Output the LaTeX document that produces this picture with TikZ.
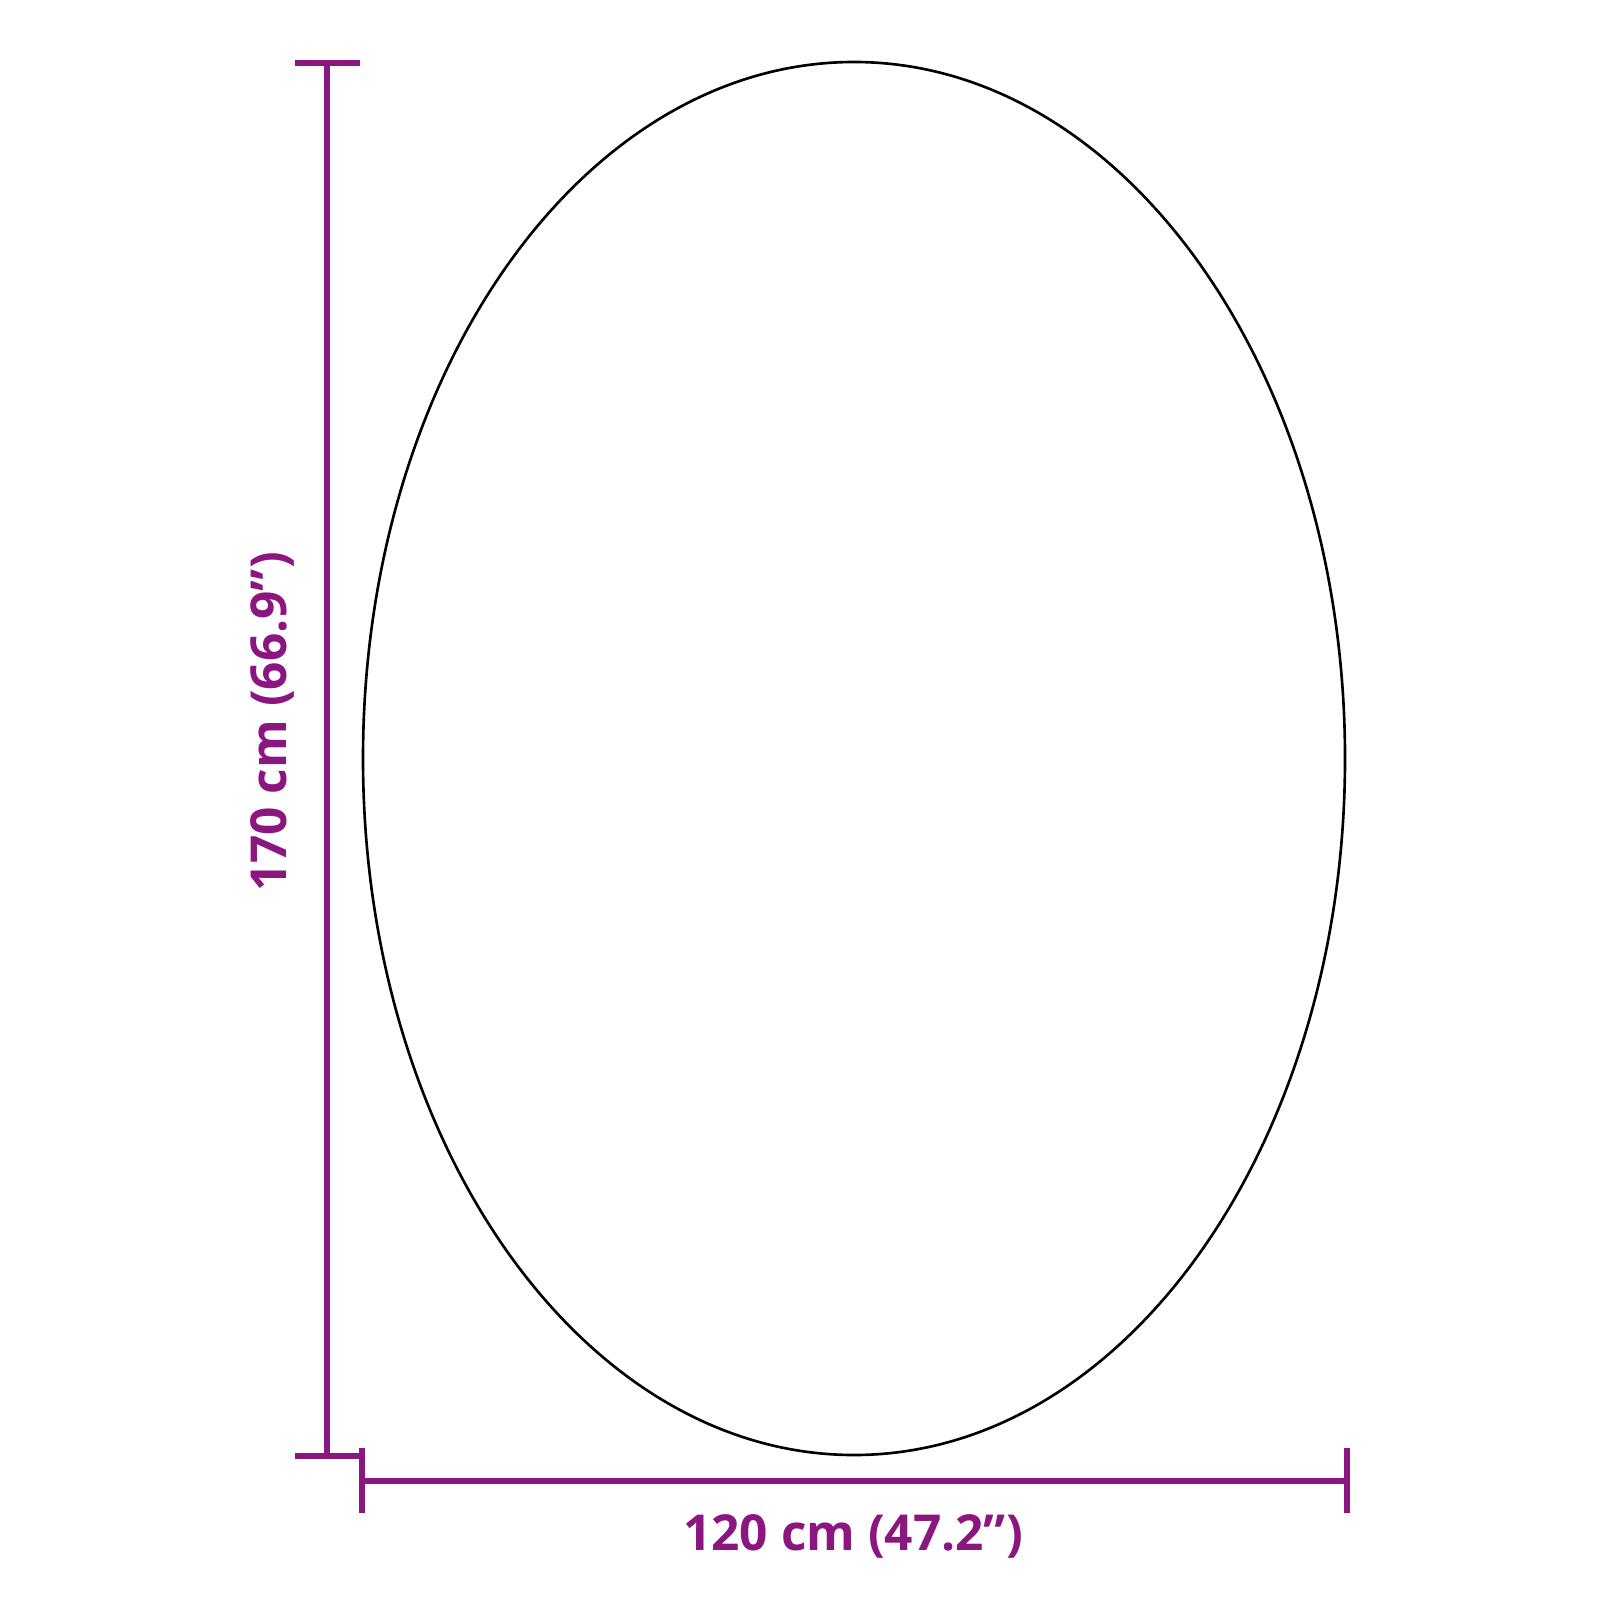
\documentclass[tikz,border=0pt]{standalone}
\usepackage{fontspec}
\setmainfont{Open Sans}
\definecolor{dimpurple}{RGB}{140,22,128}
\begin{document}
\begin{tikzpicture}[x=0.01cm,y=-0.01cm,
  dimline/.style={draw=dimpurple,line width=1.45pt},
  dimlabel/.style={text=dimpurple,font=\fontsize{14.1}{16}\selectfont\bfseries,inner sep=0pt}]
\useasboundingbox (0,0) rectangle (1600,1600);
\draw[line width=0.75pt] (854,758.5) ellipse [x radius=491, y radius=696.5];
% vertical dimension
\coordinate (vt) at (327,63);
\coordinate (vb) at (327,1456);
\coordinate (vtl) at (295,63);
\coordinate (vtr) at (360,63);
\coordinate (vbl) at (295,1456);
\coordinate (vbr) at (360,1456);
\draw[dimline] (vt) -- (vb);
\draw[dimline] (vtl) -- (vtr);
\draw[dimline] (vbl) -- (vbr);
% horizontal dimension
\coordinate (hl) at (362,1481);
\coordinate (hr) at (1347,1481);
\coordinate (hlt) at (362,1448);
\coordinate (hlb) at (362,1513);
\coordinate (hrt) at (1347,1448);
\coordinate (hrb) at (1347,1513);
\draw[dimline] (hl) -- (hr);
\draw[dimline] (hlt) -- (hlb);
\draw[dimline] (hrt) -- (hrb);
\node[dimlabel] (wl) at (853,1536) {120 cm (47.2”)};
\node[dimlabel,rotate=90] (hlab) at (272,722) {170 cm (66.9”)};
\end{tikzpicture}
\end{document}
